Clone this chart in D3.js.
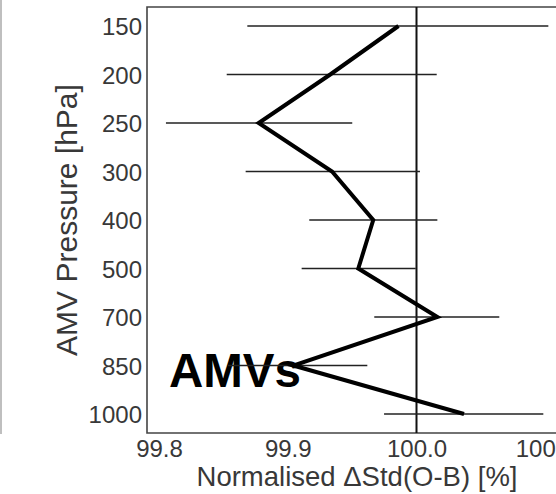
<!DOCTYPE html>
<html>
<head>
<meta charset="utf-8">
<script src="https://cdn.jsdelivr.net/npm/d3@7"></script>
<style>
  body { margin: 0; background: #fff; }
  text { font-family: "Liberation Sans", Arial, sans-serif; }
</style>
</head>
<body>
<div id="container"></div>
<script>
const w = 556, h = 494;
const plotLeft = 147, plotTop = 7, plotBottom = 433;

// pressure levels (hPa)
const levels = ['150', '200', '250', '300', '400', '500', '700', '850', '1000'];
// normalised delta std (O-B) [%]
const meanVals = [99.986, 99.933, 99.8774, 99.9344, 99.9664, 99.9548, 100.0162, 99.9043, 100.0369];
const lowVals  = [99.8686, 99.8526, 99.8054, 99.8673, 99.9167, 99.9108, 99.9672, 99.8536, 99.9748];
const highVals = [100.1024, 100.0157, 99.9501, 100.0027, 100.0162, 99.9994, 100.0643, 99.9618, 100.0985];
const xTicks = [99.8, 99.9, 100.0, 100.1];

const data = levels.map((l, i) => ({level: l, mean: meanVals[i], lo: lowVals[i], hi: highVals[i]}));

const xScale = d3.scaleLinear().domain([99.8, 100.1]).range([159, 545.25]);
const yScale = d3.scalePoint().domain(levels).range([26, 414]);

const svg = d3.select("#container").append("svg")
    .attr("width", w).attr("height", h);

// edge of neighbouring panel
svg.append("line").attr("x1", 1).attr("x2", 1).attr("y1", 0).attr("y2", 434)
    .attr("stroke", "#aaa").attr("stroke-width", 1.5);

// frame
svg.append("path")
    .attr("d", `M${w},${plotTop}H${plotLeft}V${plotBottom}H${w}`)
    .attr("fill", "none").attr("stroke", "#444").attr("stroke-width", 1.6);

// axes (labels only)
const xAxis = svg.append("g")
    .attr("transform", "translate(0," + plotBottom + ")")
    .call(d3.axisBottom(xScale).tickValues(xTicks).tickFormat(d3.format(".1f")).tickSize(0).tickPadding(0));
xAxis.select(".domain").remove();
xAxis.selectAll("text").attr("font-size", 24).attr("fill", "#383838").attr("dy", null).attr("y", 23.5)
    .style("font-family", "Liberation Sans, Arial, sans-serif");

const yAxis = svg.append("g")
    .attr("transform", "translate(" + plotLeft + ",0)")
    .call(d3.axisLeft(yScale).tickSize(0).tickPadding(5));
yAxis.select(".domain").remove();
yAxis.selectAll("text").attr("font-size", 24).attr("fill", "#383838").attr("dy", "0.36em")
    .style("font-family", "Liberation Sans, Arial, sans-serif");

// axis titles
svg.append("text")
    .attr("x", 357).attr("y", 485.5)
    .attr("text-anchor", "middle").attr("font-size", 27.5).attr("fill", "#383838")
    .text("Normalised \u0394Std(O-B) [%]");
svg.append("text")
    .attr("transform", "translate(77,220) rotate(-90)")
    .attr("text-anchor", "middle").attr("font-size", 30).attr("fill", "#383838")
    .text("AMV Pressure [hPa]");

// reference line at 100
svg.append("line")
    .attr("x1", xScale(100)).attr("x2", xScale(100))
    .attr("y1", plotTop).attr("y2", plotBottom)
    .attr("stroke", "#111").attr("stroke-width", 2);

// panel label
svg.append("text")
    .attr("x", 169).attr("y", 386.5)
    .attr("font-size", 47.5).attr("font-weight", "bold").attr("fill", "#000")
    .text("AMVs");

// error bars
svg.selectAll(".err")
    .data(data).enter()
    .append("line")
    .attr("class", "err")
    .attr("x1", d => xScale(d.lo)).attr("x2", d => xScale(d.hi))
    .attr("y1", d => yScale(d.level)).attr("y2", d => yScale(d.level))
    .attr("stroke", "#222").attr("stroke-width", 1.5);

// mean profile
const line = d3.line().x(d => xScale(d.mean)).y(d => yScale(d.level));
svg.append("path")
    .datum(data)
    .attr("d", line)
    .attr("fill", "none").attr("stroke", "#000").attr("stroke-width", 4)
    .attr("stroke-linejoin", "miter");
</script>
</body>
</html>
